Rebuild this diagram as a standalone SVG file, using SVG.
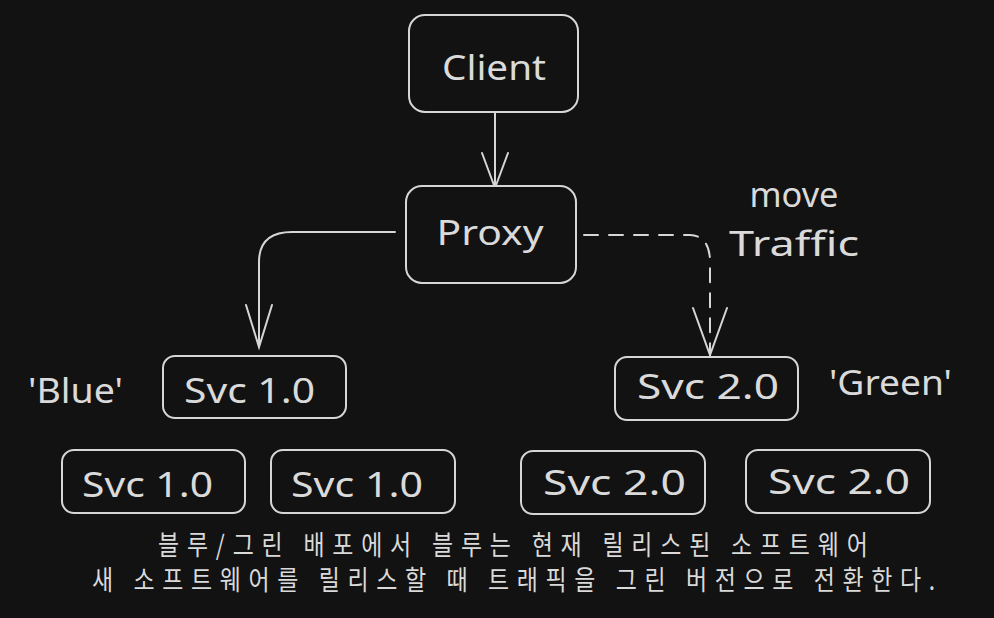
<svg xmlns="http://www.w3.org/2000/svg" width="994" height="618" viewBox="0 0 994 618">
<defs>
<style>
.box{fill:#121212;stroke:#d6d6d6;stroke-width:2}
.lbl{font-family:"Noto Sans","Liberation Sans",sans-serif;fill:#dadada;font-size:34px}
.ko{font-family:"Noto Sans CJK KR","Noto Sans",sans-serif;fill:#dadada;font-size:27px}
.edge{fill:none;stroke:#d6d6d6;stroke-width:2;stroke-linecap:round}
.dash{stroke-dasharray:14 11}
</style>
</defs>
<rect width="994" height="618" fill="#121212"/>
<g id="connectors">
<path class="edge" d="M495 113 L495 188"/>
<path class="edge" d="M482 153 L495 188 L508 153"/>
<path class="edge" d="M395 232 L292 232 Q259 232 259 262 L259 347"/>
<path class="edge" d="M246 305 L259 347 L272 305"/>
<path class="edge dash" d="M584 235 L690 235 Q710 236 710 262 L710 355"/>
<path class="edge" d="M693 308 L710 355 L727 308"/>
</g>
<g id="client"><rect class="box" x="409" y="15" width="169" height="97" rx="16"/><text class="lbl" x="494" y="80" text-anchor="middle" textLength="104" lengthAdjust="spacingAndGlyphs">Client</text></g>
<g id="proxy"><rect class="box" x="406" y="186" width="170" height="97" rx="16"/><text class="lbl" x="490" y="245" text-anchor="middle" textLength="107" lengthAdjust="spacingAndGlyphs">Proxy</text></g>
<g id="move-label"><text class="lbl" x="794" y="207" text-anchor="middle" textLength="89" lengthAdjust="spacingAndGlyphs">move</text><text class="lbl" x="794" y="256" text-anchor="middle" textLength="130" lengthAdjust="spacingAndGlyphs">Traffic</text></g>
<g id="blue-label"><text class="lbl" x="28" y="403" textLength="95" lengthAdjust="spacingAndGlyphs">'Blue'</text></g>
<g id="green-label"><text class="lbl" x="829" y="395" textLength="123" lengthAdjust="spacingAndGlyphs">'Green'</text></g>
<g id="svc1-top"><rect class="box" x="163" y="356" width="183" height="62" rx="12"/><text class="lbl" x="184" y="403" textLength="131" lengthAdjust="spacingAndGlyphs">Svc 1.0</text></g>
<g id="svc2-top"><rect class="box" x="615" y="357" width="183" height="63" rx="12"/><text class="lbl" x="637" y="399" textLength="142" lengthAdjust="spacingAndGlyphs">Svc 2.0</text></g>
<g id="svc1-a"><rect class="box" x="62" y="450" width="183" height="63" rx="12"/><text class="lbl" x="82" y="497" textLength="131" lengthAdjust="spacingAndGlyphs">Svc 1.0</text></g>
<g id="svc1-b"><rect class="box" x="271" y="450" width="184" height="63" rx="12"/><text class="lbl" x="291" y="497" textLength="132" lengthAdjust="spacingAndGlyphs">Svc 1.0</text></g>
<g id="svc2-a"><rect class="box" x="521" y="451" width="184" height="63" rx="12"/><text class="lbl" x="543" y="495" textLength="143" lengthAdjust="spacingAndGlyphs">Svc 2.0</text></g>
<g id="svc2-b"><rect class="box" x="746" y="450" width="184" height="63" rx="12"/><text class="lbl" x="768" y="494" textLength="142" lengthAdjust="spacingAndGlyphs">Svc 2.0</text></g>
<g id="caption" transform="scale(0.85 1)">
<text class="ko" x="185.9" y="555" textLength="835" lengthAdjust="spacing" xml:space="preserve">블루/그린 배포에서 블루는 현재 릴리스된 소프트웨어</text>
<text class="ko" x="108.2" y="590" textLength="992" lengthAdjust="spacing" xml:space="preserve">새 소프트웨어를 릴리스할 때 트래픽을 그린 버전으로 전환한다.</text>
</g>
</svg>
